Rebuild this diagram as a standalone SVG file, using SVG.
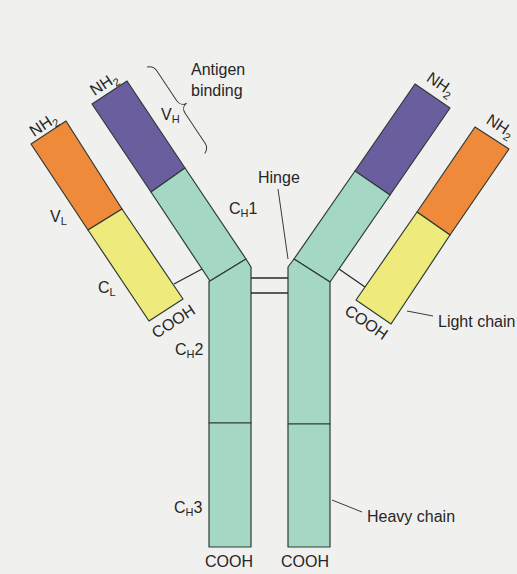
<svg xmlns="http://www.w3.org/2000/svg" width="517" height="574" viewBox="0 0 517 574">
<style>
text{font-family:"Liberation Sans",Arial,sans-serif;font-size:16px;fill:#262626}
.sub{font-size:11px}
.dom{stroke:#2f3a36;stroke-width:1.2;stroke-linejoin:round}
.vh{fill:#6b5e9f}
.vl{fill:#ef8a3a}
.cl{fill:#efea7c}
.ch{fill:#a4d8c4}
.ln{stroke:#2a2a2a;stroke-width:1.3;fill:none}
.thin{stroke:#3a3a3a;stroke-width:1;fill:none}
</style>
<rect width="517" height="574" fill="#f0f0ee"/>

<g id="light-chain-left">
<polygon class="dom vl" points="31,144 66,121 122,209 88,230"/>
<polygon class="dom cl" points="88,230 122,209 183,299 149,321"/>
<text transform="translate(48.5,132.5) rotate(-33.3)" x="0" y="-4" text-anchor="middle">NH<tspan class="sub" dy="4">2</tspan></text>
<text transform="translate(166,310) rotate(-33)" x="0" y="19" text-anchor="middle">COOH</text>
<text x="50" y="222">V<tspan class="sub" dy="3">L</tspan></text>
<text x="98" y="293">C<tspan class="sub" dy="3">L</tspan></text>
</g>

<g id="heavy-chain-left">
<polygon class="dom vh" points="92,104 127,81 185,168 151,192"/>
<polygon class="dom ch" points="151,192 185,168 246,259 210,281"/>
<polygon class="dom ch" points="210,281 246,259 251,267 251,423 209,423 209,281"/>
<polygon class="dom ch" points="209,423 251,423 251,547 209,547"/>
<text transform="translate(109.5,92.5) rotate(-33.3)" x="0" y="-5" text-anchor="middle">NH<tspan class="sub" dy="4">2</tspan></text>
<text x="161" y="120">V<tspan class="sub" dy="3">H</tspan></text>
<text x="229" y="214">C<tspan class="sub" dy="3">H</tspan><tspan dy="-3">1</tspan></text>
<text x="175" y="355">C<tspan class="sub" dy="3">H</tspan><tspan dy="-3">2</tspan></text>
<text x="174" y="513">C<tspan class="sub" dy="3">H</tspan><tspan dy="-3">3</tspan></text>
<text x="229" y="567" text-anchor="middle">COOH</text>
</g>

<g id="heavy-chain-right">
<polygon class="dom vh" points="415,84 450,108 390,195 355,171"/>
<polygon class="dom ch" points="355,171 390,195 330,282 294,259"/>
<polygon class="dom ch" points="294,259 330,282 330,424 288,424 288,267"/>
<polygon class="dom ch" points="288,424 330,424 330,547 288,547"/>
<text transform="translate(432.5,96) rotate(34.4)" x="0" y="-9" text-anchor="middle">NH<tspan class="sub" dy="4">2</tspan></text>
<text x="305" y="567" text-anchor="middle">COOH</text>
</g>

<g id="light-chain-right">
<polygon class="dom vl" points="475,127 509,149 450,235 417,212"/>
<polygon class="dom cl" points="417,212 450,235 391,324 356,300"/>
<text transform="translate(492.5,138) rotate(33)" x="0" y="-9" text-anchor="middle">NH<tspan class="sub" dy="4">2</tspan></text>
<text transform="translate(373.5,312) rotate(34.4)" x="0" y="18" text-anchor="middle">COOH</text>
</g>

<g id="label-antigen-binding">
<text x="191" y="75">Antigen</text>
<text x="191" y="96">binding</text>
</g>
<g id="label-hinge"><text x="258" y="183">Hinge</text></g>
<g id="label-light-chain"><text x="438" y="327">Light chain</text></g>
<g id="label-heavy-chain"><text x="367" y="522">Heavy chain</text></g>

<g id="connectors">
<line class="ln" x1="251" y1="278" x2="288" y2="278"/>
<line class="ln" x1="251" y1="293" x2="288" y2="293"/>
<line class="ln" x1="174" y1="284" x2="202" y2="269"/>
<line class="ln" x1="339" y1="269" x2="365" y2="287"/>
<line class="thin" x1="278" y1="189" x2="288" y2="259"/>
<line class="thin" x1="407" y1="311" x2="433" y2="316"/>
<line class="thin" x1="332" y1="500" x2="362" y2="512"/>
<path class="thin" transform="translate(147,67) rotate(56.3)" d="M0,0 C2,-5 5,-6 8,-6 L44,-6 C49,-6 52,-9 52,-13 C52,-9 55,-6 60,-6 L96,-6 C99,-6 102,-5 104,0"/>
</g>
</svg>
